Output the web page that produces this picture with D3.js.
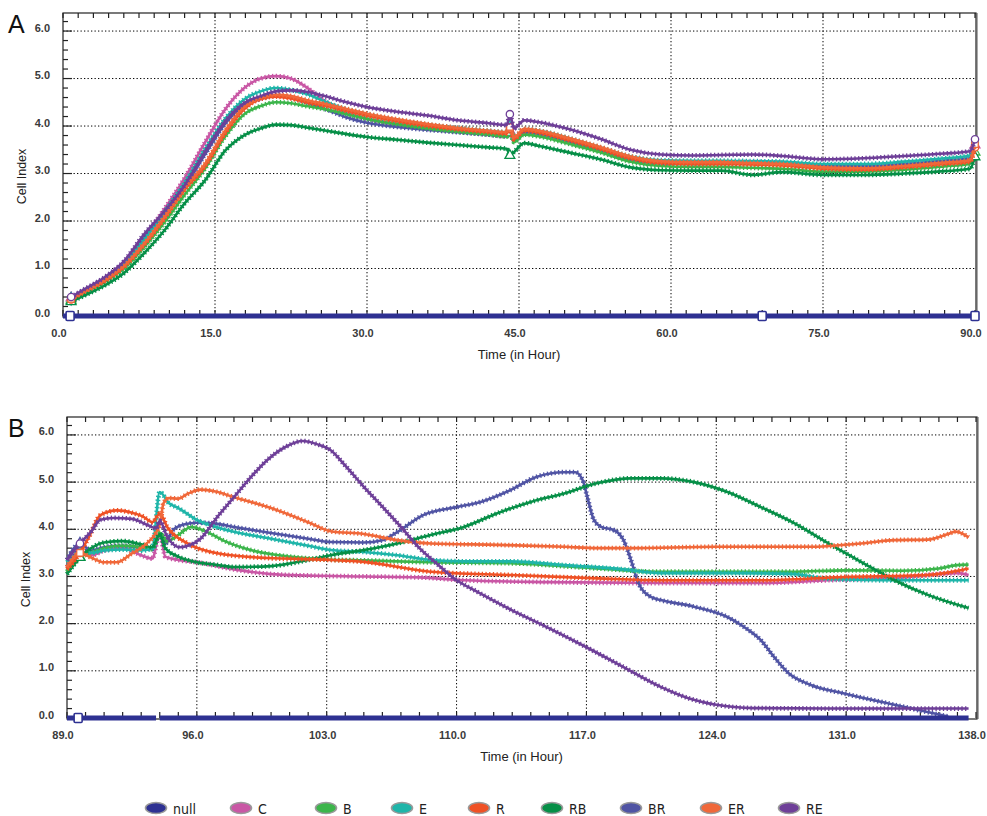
<!DOCTYPE html>
<html>
<head>
<meta charset="utf-8">
<script src="https://cdn.jsdelivr.net/npm/d3@7"></script>
<style>
  body { margin: 0; background: #fff; }
  svg text { font-family: "Liberation Sans", Arial, sans-serif; }
  svg text.legend { font-family: "DejaVu Sans Condensed", "Liberation Sans Narrow", "Liberation Sans", sans-serif; }
</style>
</head>
<body>
<svg id="chart" width="987" height="816"></svg>
<script>
// ---------- series definitions ----------
const seriesNames  = ["C", "B", "E", "R", "RB", "BR", "ER", "RE"];
const seriesColors = ["#C957A5", "#3CB54B", "#1FB5A9", "#EF5125", "#068F47", "#5054A4", "#F0683A", "#6E3F98"];
const seriesSymbols = ["triangle", "triangle", "diamond", "circle", "triangle", "diamond", "square", "circle"];
const nullColor = "#2E3192";
const legendNames = ["null", "C", "B", "E", "R", "RB", "BR", "ER", "RE"];

// ---------- panel A : 0 - 90 h ----------
const timeA = [0.8, 2, 4, 6, 8, 10, 12, 14, 16, 18, 19.5, 21, 22.5, 24, 26, 28, 30, 33, 36, 39, 42,
               43.8, 44.1, 44.5, 45.5, 47, 50, 53, 56, 59, 62, 65, 68, 71, 75, 79, 83, 87, 89.5, 90];
const cA  = [0.38, 0.52, 0.78, 1.12, 1.65, 2.25, 2.9, 3.65, 4.35, 4.82, 5.0, 5.05, 5.0, 4.82, 4.5, 4.28, 4.15, 4.03, 3.95, 3.88, 3.82,
             3.78, 3.9, 3.7, 3.86, 3.82, 3.66, 3.48, 3.3, 3.22, 3.2, 3.2, 3.2, 3.18, 3.12, 3.12, 3.17, 3.25, 3.3, 3.6];
const bA  = [0.33, 0.47, 0.7, 1.0, 1.45, 1.97, 2.55, 3.1, 3.78, 4.27, 4.42, 4.5, 4.48, 4.42, 4.35, 4.25, 4.15, 4.04, 3.95, 3.88, 3.82,
             3.78, 3.86, 3.66, 3.82, 3.78, 3.62, 3.45, 3.25, 3.16, 3.14, 3.14, 3.12, 3.1, 3.04, 3.04, 3.08, 3.15, 3.2, 3.45];
const eA  = [0.36, 0.5, 0.75, 1.08, 1.6, 2.18, 2.8, 3.5, 4.15, 4.58, 4.73, 4.8, 4.76, 4.68, 4.5, 4.35, 4.25, 4.12, 4.03, 3.96, 3.9,
             3.87, 3.98, 3.75, 3.93, 3.9, 3.74, 3.55, 3.36, 3.28, 3.27, 3.27, 3.26, 3.25, 3.2, 3.2, 3.25, 3.32, 3.38, 3.65];
const rA  = [0.35, 0.5, 0.72, 1.03, 1.5, 2.05, 2.66, 3.15, 3.85, 4.38, 4.57, 4.62, 4.58, 4.5, 4.42, 4.32, 4.22, 4.1, 4.0, 3.93, 3.87,
             3.84, 3.95, 3.72, 3.9, 3.86, 3.7, 3.52, 3.32, 3.22, 3.2, 3.2, 3.19, 3.17, 3.1, 3.08, 3.13, 3.2, 3.25, 3.55];
const rbA = [0.3, 0.42, 0.63, 0.9, 1.32, 1.8, 2.37, 2.85, 3.48, 3.82, 3.95, 4.03, 4.02, 3.97, 3.9, 3.83, 3.77, 3.71, 3.65, 3.6, 3.55,
             3.52, 3.38, 3.45, 3.64, 3.58, 3.44, 3.3, 3.13, 3.07, 3.06, 3.06, 2.97, 3.03, 2.97, 2.97, 3.0, 3.05, 3.1, 3.35];
const brA = [0.37, 0.53, 0.78, 1.1, 1.65, 2.15, 2.72, 3.4, 4.05, 4.45, 4.57, 4.64, 4.6, 4.5, 4.35, 4.18, 4.07, 3.98, 3.92, 3.87, 3.82,
             3.79, 3.92, 3.7, 3.88, 3.84, 3.68, 3.5, 3.3, 3.22, 3.22, 3.23, 3.24, 3.22, 3.15, 3.15, 3.2, 3.27, 3.32, 3.62];
const erA = [0.36, 0.5, 0.74, 1.05, 1.52, 2.08, 2.7, 3.2, 3.9, 4.42, 4.6, 4.66, 4.63, 4.55, 4.46, 4.36, 4.26, 4.14, 4.04, 3.96, 3.9,
             3.87, 3.98, 3.76, 3.94, 3.9, 3.74, 3.56, 3.36, 3.26, 3.24, 3.24, 3.22, 3.2, 3.13, 3.11, 3.16, 3.23, 3.28, 3.62];
const reA = [0.4, 0.55, 0.8, 1.15, 1.72, 2.2, 2.75, 3.45, 4.1, 4.5, 4.63, 4.73, 4.75, 4.72, 4.62, 4.5, 4.4, 4.3, 4.22, 4.12, 4.06,
             4.02, 4.25, 3.95, 4.12, 4.08, 3.93, 3.73, 3.5, 3.4, 3.38, 3.39, 3.4, 3.37, 3.3, 3.32, 3.37, 3.42, 3.47, 3.72];
const nullA = [[0, 0], [0.7, 0], [69, 0], [90, 0]];
const nullMarksA = [0.7, 69, 90];
const eventsA = [0.8, 44.1, 90];
const xTicksA = [0, 15, 30, 45, 60, 75, 90];

// ---------- panel B : 89 - 138 h ([time, cell index]) ----------
const cB = [[89,3.2],[89.7,3.55],[90.3,3.45],[91,3.55],[92,3.6],[93,3.45],[93.6,3.38],[94,3.92],[94.3,3.42],[95,3.35],
            [96,3.3],[98,3.15],[100,3.05],[102,3.02],[105,3.0],[108,2.98],[110.4,2.92],[115,2.88],[121,2.86],[126.4,2.86],
            [130,2.92],[134,2.98],[137,3.07],[137.6,3.03]];
const bB = [[89,3.1],[89.7,3.41],[90.3,3.5],[91,3.6],[92,3.65],[93,3.62],[93.6,3.58],[94,3.92],[94.4,3.75],[95,3.88],
            [95.7,4.05],[96.5,3.95],[97.5,3.75],[99,3.55],[101,3.42],[103,3.36],[105,3.34],[108.6,3.3],[112.9,3.28],
            [117.6,3.17],[121,3.1],[124,3.1],[128,3.1],[131,3.13],[134,3.12],[136,3.17],[137,3.24],[137.6,3.25]];
const eB = [[89,3.3],[89.7,3.5],[90.3,3.5],[91,3.55],[92,3.57],[93,3.55],[93.6,3.6],[94,4.79],[94.5,4.55],[95,4.45],
            [96,4.2],[97,4.05],[98,3.95],[100,3.8],[102,3.65],[103.2,3.56],[105,3.52],[106.8,3.45],[108.6,3.35],[110.4,3.32],
            [112.9,3.32],[115.8,3.24],[119,3.15],[121,3.07],[125,3.07],[128.2,3.05],[130,2.95],[133,2.92],[135,2.92],[137.6,2.92]];
const rB = [[89,3.15],[89.7,3.5],[90.2,3.85],[90.8,4.3],[91.7,4.4],[92.5,4.35],[93.1,4.27],[93.6,4.15],[94,4.33],[94.4,4.05],
            [95.5,3.7],[97.1,3.49],[99.8,3.39],[103.2,3.35],[105,3.31],[108.6,3.1],[112.9,3.03],[117.6,2.96],[121,2.92],
            [126.4,2.92],[130.9,2.99],[135.4,3.03],[137,3.12],[137.6,3.17]];
const rbB = [[89,3.05],[89.7,3.4],[90.3,3.6],[91,3.72],[92,3.75],[93,3.68],[93.6,3.62],[94,3.9],[94.3,3.6],[95,3.42],
             [96,3.3],[97,3.25],[98,3.2],[100,3.22],[102,3.35],[103.2,3.45],[105,3.56],[106.8,3.7],[108.6,3.88],[110.4,4.05],
             [112.2,4.34],[114,4.58],[115.8,4.76],[117.6,4.98],[119.4,5.08],[121,5.08],[122.8,5.0],[124.6,4.79],[126.4,4.47],
             [128.2,4.13],[130,3.71],[131.8,3.31],[133.6,2.92],[135.4,2.61],[137.6,2.33]];
const brB = [[89,3.35],[89.7,3.7],[90.3,3.55],[91,3.62],[92,3.65],[93,3.6],[93.6,3.58],[94,3.9],[94.3,3.7],[94.7,3.98],
             [95.3,4.1],[96,4.14],[97,4.12],[98,4.05],[100,3.92],[102,3.8],[103.2,3.73],[105,3.72],[106,3.77],[106.8,3.94],
             [108.2,4.3],[110,4.47],[111.3,4.58],[112.9,4.83],[114.3,5.11],[115.8,5.21],[116.4,5.21],[116.8,5.04],[117,4.76],
             [117.4,4.2],[117.8,4.05],[118.5,3.98],[119,3.77],[119.4,3.35],[119.8,2.86],[120.5,2.56],[121,2.5],[122.8,2.36],
             [124.6,2.14],[125.5,1.93],[126.4,1.65],[127.1,1.3],[127.9,0.95],[129.1,0.7],[130.9,0.52],[133.6,0.28],[136.5,0.03]];
const erB = [[89,3.2],[89.7,3.5],[90.3,3.4],[91,3.3],[91.7,3.3],[92.5,3.49],[93.3,3.7],[94,4.1],[94.2,4.55],[94.5,4.66],
             [95,4.65],[95.5,4.75],[96.2,4.84],[97,4.8],[98,4.68],[100,4.45],[102,4.15],[103.2,3.96],[105,3.9],[106.8,3.77],
             [108.6,3.7],[112.2,3.67],[115.8,3.63],[117.6,3.6],[119.4,3.6],[124,3.63],[129,3.63],[131.8,3.7],[133.6,3.77],
             [135.4,3.78],[136.5,3.9],[136.9,3.95],[137.6,3.83]];
const reB = [[89,3.35],[89.7,3.7],[90.3,3.95],[90.8,4.2],[91.5,4.24],[92.5,4.22],[93.4,4.08],[93.8,4.02],[94,4.18],[94.4,3.84],
             [95.1,3.62],[95.6,3.66],[96.2,3.8],[97.1,4.26],[98,4.68],[98.9,5.1],[99.8,5.47],[100.8,5.75],[101.7,5.87],
             [102.5,5.8],[103.2,5.68],[104,5.35],[105,4.9],[106,4.48],[107,4.05],[108,3.6],[109,3.25],[110,2.92],[111,2.7],
             [113,2.28],[115,1.9],[117,1.5],[119,1.08],[121,0.66],[122.5,0.42],[124,0.28],[126,0.21],[130,0.2],[137.6,0.2]];
const nullB = [[[89, 0], [89.6, 0], [93.8, 0]], [[94.0, 0], [137.6, 0]]];
const nullMarksB = [89.6];
const eventsB = [89.7];
const xTicksB = [89, 96, 103, 110, 117, 124, 131, 138];
const yTicks = [0, 1, 2, 3, 4, 5, 6];

// ---------- drawing ----------
const svg = d3.select("#chart");
const fmt = d3.format(".1f");
const symbolType = {
  circle: d3.symbolCircle, triangle: d3.symbolTriangle, diamond: d3.symbolDiamond, square: d3.symbolSquare
};

function drawPanel(p) {
  const g = svg.append("g");
  const x = d3.scaleLinear().domain(p.xDomain).range(p.xRange);
  const y = d3.scaleLinear().domain([0, 6.38]).range(p.yRange);
  const [x0, x1] = p.xRange;
  const [yb, yt] = p.yRange;

  // dotted grid
  g.append("g").selectAll("line").data(yTicks.filter(v => v > 0)).join("line")
    .attr("x1", x0).attr("x2", x1).attr("y1", d => y(d)).attr("y2", d => y(d))
    .attr("stroke", "#000").attr("stroke-width", 1).attr("stroke-dasharray", "1.3,2.2");
  g.append("g").selectAll("line").data(p.xTicks.slice(1, -1)).join("line")
    .attr("x1", d => x(d)).attr("x2", d => x(d)).attr("y1", yt).attr("y2", yb)
    .attr("stroke", "#000").attr("stroke-width", 1).attr("stroke-dasharray", "1.3,2.2");

  // minor ticks on top / bottom / left edges
  const xm = d3.range(p.xDomain[0], p.xDomain[1] + 1e-6, p.xMinor);
  g.append("g").selectAll("line").data(xm).join("line")
    .attr("x1", d => x(d)).attr("x2", d => x(d)).attr("y1", yt).attr("y2", yt + 5)
    .attr("stroke", "#222").attr("stroke-width", 1.2);
  g.append("g").selectAll("line").data(xm).join("line")
    .attr("x1", d => x(d)).attr("x2", d => x(d)).attr("y1", yb).attr("y2", yb - 6)
    .attr("stroke", "#222").attr("stroke-width", 1.2);
  const ym = d3.range(0, 6.39, 0.2);
  g.append("g").selectAll("line").data(ym).join("line")
    .attr("x1", x0).attr("x2", (d, i) => x0 + (i % 5 === 0 ? 9 : 5))
    .attr("y1", d => y(d)).attr("y2", d => y(d))
    .attr("stroke", "#222").attr("stroke-width", 1.2);

  // frame
  g.append("rect").attr("x", x0).attr("y", yt).attr("width", x1 - x0 + 1).attr("height", yb - yt + 1)
    .attr("fill", "none").attr("stroke", "#222").attr("stroke-width", 1.2);
  g.append("line").attr("x1", x1 + 2).attr("x2", x1 + 2).attr("y1", yt).attr("y2", yb + 1)
    .attr("stroke", "#555").attr("stroke-width", 1);

  // tick labels
  g.append("g").selectAll("text").data(yTicks).join("text")
    .attr("x", x0 - 13).attr("y", d => y(d)).attr("dy", "0.05em")
    .attr("text-anchor", "end").attr("font-size", 11).attr("font-weight", "bold").attr("fill", "#3a3a3a")
    .text(fmt);
  g.append("g").selectAll("text").data(p.xTicks).join("text")
    .attr("x", d => x(d) - 4).attr("y", yb + 21)
    .attr("text-anchor", "middle").attr("font-size", 11).attr("font-weight", "bold").attr("fill", "#3a3a3a")
    .text(fmt);

  // axis titles and panel letter
  g.append("text").attr("transform", `translate(${p.yTitleX},${(yb + yt) / 2 + 12}) rotate(-90)`)
    .attr("text-anchor", "middle").attr("font-size", 12.5).attr("fill", "#222").text("Cell Index");
  g.append("text").attr("x", (x0 + x1) / 2).attr("y", yb + 43)
    .attr("text-anchor", "middle").attr("font-size", 13).attr("fill", "#222").text("Time (in Hour)");
  g.append("text").attr("x", 8).attr("y", yt + 20).attr("font-size", 25).attr("fill", "#111").text(p.letter);

  // data series
  const line = d3.line().x(d => x(d[0])).y(d => y(d[1])).curve(d3.curveMonotoneX);
  const order = [0, 5, 1, 2, 4, 3, 6, 7];
  order.forEach(i => {
    const pts = p.series[i];
    const col = seriesColors[i];
    g.append("path").attr("d", line(pts)).attr("fill", "none")
      .attr("stroke", col).attr("stroke-width", 2.6).attr("stroke-linejoin", "round");
    g.append("path").attr("d", line(pts)).attr("fill", "none")
      .attr("stroke", col).attr("stroke-width", 4.8).attr("stroke-dasharray", "1.3,2.4");
    // hollow markers at event points
    g.append("g").selectAll("path").data(pts.filter(d => p.events.includes(d[0]))).join("path")
      .attr("transform", d => `translate(${x(d[0])},${y(d[1])})`)
      .attr("d", d3.symbol().type(symbolType[seriesSymbols[i]]).size(42))
      .attr("fill", "#fff").attr("stroke", col).attr("stroke-width", 1.3);
  });

  // null reference line
  p.nullSegs.forEach(seg => {
    g.append("path").attr("d", d3.line().x(d => x(d[0])).y(d => y(d[1]))(seg))
      .attr("fill", "none").attr("stroke", nullColor).attr("stroke-width", 5);
  });
  g.append("g").selectAll("rect").data(p.nullMarks).join("rect")
    .attr("x", d => x(d) - 4).attr("y", y(0) - 4.5).attr("width", 8).attr("height", 9).attr("rx", 1)
    .attr("fill", "#fff").attr("stroke", nullColor).attr("stroke-width", 1.6);
}

drawPanel({
  letter: "A", xDomain: [0, 90], xRange: [63, 975], yRange: [316, 13], xTicks: xTicksA, xMinor: 1.5,
  yTitleX: 26,
  series: [cA, bA, eA, rA, rbA, brA, erA, reA].map(v => v.map((d, i) => [timeA[i], d])),
  events: eventsA, nullSegs: [nullA], nullMarks: nullMarksA
});
drawPanel({
  letter: "B", xDomain: [89, 138], xRange: [67, 976], yRange: [718, 417], xTicks: xTicksB, xMinor: 1,
  yTitleX: 30,
  series: [cB, bB, eB, rB, rbB, brB, erB, reB],
  events: eventsB, nullSegs: nullB, nullMarks: nullMarksB
});

// legend
const legendX = [156, 241, 326, 402, 479, 552, 631, 711, 789];
const legendColors = [nullColor].concat(seriesColors);
const lg = svg.append("g");
legendNames.forEach((name, i) => {
  lg.append("ellipse").attr("cx", legendX[i]).attr("cy", 808).attr("rx", 10.5).attr("ry", 5.5)
    .attr("fill", legendColors[i]).attr("stroke", "#9a9a9a").attr("stroke-width", 1.6);
  lg.append("text").attr("class", "legend").attr("x", legendX[i] + 17).attr("y", 814)
    .attr("font-size", 14).attr("fill", "#222").text(name);
});
</script>
</body>
</html>
